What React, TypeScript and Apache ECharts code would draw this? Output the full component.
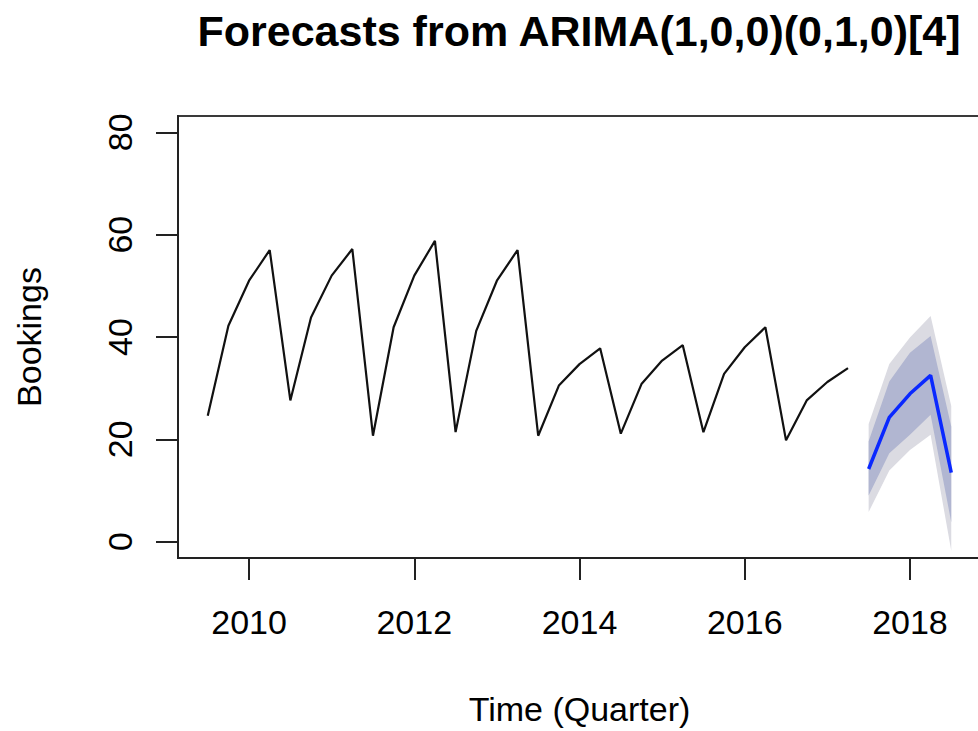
import React, { useEffect, useRef } from "react";
import * as echarts from "echarts";

// Historical quarterly bookings, 2009 Q3 .. 2017 Q2
const histStart = 2009.5;
const histValues = [
  24.6, 42.2, 51.0, 57.0,
  27.6, 43.8, 52.0, 57.2,
  20.7, 41.9, 52.0, 58.8,
  21.4, 41.2, 51.0, 57.0,
  20.7, 30.5, 34.7, 37.8,
  21.1, 30.8, 35.4, 38.4,
  21.4, 32.8, 38.0, 41.9,
  19.8, 27.6, 31.2, 33.9,
];

// Forecast 2017 Q3 .. 2018 Q3
const fcTimes = [2017.5, 2017.75, 2018.0, 2018.25, 2018.5];
const fcMean = [14.2, 24.3, 28.9, 32.5, 13.5];
const lo80 = [9.0, 17.3, 20.9, 24.8, 3.8];
const hi80 = [19.6, 31.3, 36.9, 40.2, 22.5];
const lo95 = [5.8, 13.9, 17.9, 20.9, -1.8];
const hi95 = [23.0, 34.7, 39.9, 44.1, 26.5];

const xTicks = [2010, 2012, 2014, 2016, 2018];
const yTicks = [0, 20, 40, 60, 80];

const titleText = "Forecasts from ARIMA(1,0,0)(0,1,0)[4]";
const xName = "Time (Quarter)";
const yName = "Bookings";

const FONT = "'Liberation Sans', Arial, Helvetica, sans-serif";

export default function App() {
  const ref = useRef<HTMLDivElement>(null);

  useEffect(() => {
    if (!ref.current) return;
    const chart = echarts.init(ref.current, null, { renderer: "svg" });

    const histData = histValues.map((v, i) => [histStart + i * 0.25, v]);
    const fcData = fcTimes.map((t, i) => [t, fcMean[i]]);

    const bandPoly = (api: any, lo: number[], hi: number[]) => {
      const pts: number[][] = [];
      for (let i = 0; i < fcTimes.length; i++) pts.push(api.coord([fcTimes[i], hi[i]]));
      for (let i = fcTimes.length - 1; i >= 0; i--) pts.push(api.coord([fcTimes[i], lo[i]]));
      return pts;
    };

    const option: any = {
      animation: false,
      backgroundColor: "#ffffff",
      title: {
        text: titleText,
        left: 574,
        top: 4,
        textAlign: "center",
        textStyle: {
          fontFamily: FONT,
          fontWeight: "bold",
          fontSize: 43,
          color: "#000",
        },
      },
      grid: {
        left: 178,
        right: 0,
        top: 116,
        bottom: 172,
        show: true,
        borderColor: "#3a3a3a",
        borderWidth: 2,
        backgroundColor: "transparent",
      },
      xAxis: {
        type: "value",
        min: 2009.14,
        max: 2018.86,
        name: xName,
        nameLocation: "middle",
        nameGap: 134,
        nameTextStyle: { fontFamily: FONT, fontSize: 34, color: "#000" },
        axisLine: { show: true, onZero: false, lineStyle: { color: "#222", width: 2 } },
        axisTick: {
          show: true,
          length: 22,
          customValues: xTicks,
          lineStyle: { color: "#222", width: 2 },
        },
        axisLabel: {
          show: true,
          customValues: xTicks,
          margin: 47,
          fontFamily: FONT,
          fontSize: 34,
          color: "#000",
          formatter: (v: number) => String(Math.round(v)),
        },
        splitLine: { show: false },
      },
      yAxis: {
        type: "value",
        min: -3.2,
        max: 83.2,
        name: yName,
        nameLocation: "middle",
        nameRotate: 90,
        nameGap: 132,
        nameTextStyle: { fontFamily: FONT, fontSize: 34, color: "#000" },
        axisLine: { show: true, onZero: false, lineStyle: { color: "#222", width: 2 } },
        axisTick: {
          show: true,
          length: 22,
          customValues: yTicks,
          lineStyle: { color: "#222", width: 2 },
        },
        axisLabel: {
          show: true,
          customValues: yTicks,
          rotate: 90,
          margin: 41,
          fontFamily: FONT,
          fontSize: 34,
          color: "#000",
          formatter: (v: number) => String(Math.round(v)),
        },
        splitLine: { show: false },
      },
      series: [
        {
          type: "custom",
          data: [[0]],
          silent: true,
          z: 1,
          renderItem: (_params: any, api: any) => ({
            type: "group",
            children: [
              {
                type: "polygon",
                shape: { points: bandPoly(api, lo95, hi95) },
                style: { fill: "#dbdbe2", stroke: "none" },
              },
              {
                type: "polygon",
                shape: { points: bandPoly(api, lo80, hi80) },
                style: { fill: "#b1b6d1", stroke: "none" },
              },
            ],
          }),
        },
        {
          type: "line",
          data: histData,
          showSymbol: false,
          symbol: "none",
          z: 3,
          lineStyle: { color: "#111", width: 2.2 },
        },
        {
          type: "line",
          data: fcData,
          showSymbol: false,
          symbol: "none",
          z: 4,
          lineStyle: { color: "#0a28ff", width: 3.5 },
        },
      ],
    };

    chart.setOption(option);
    return () => {
      chart.dispose();
    };
  }, []);

  return (
    <div
      style={{
        position: "absolute",
        left: 0,
        top: 0,
        width: 978,
        height: 731,
        overflow: "hidden",
      }}
    >
      <div ref={ref} style={{ width: 981, height: 731 }} />
    </div>
  );
}
